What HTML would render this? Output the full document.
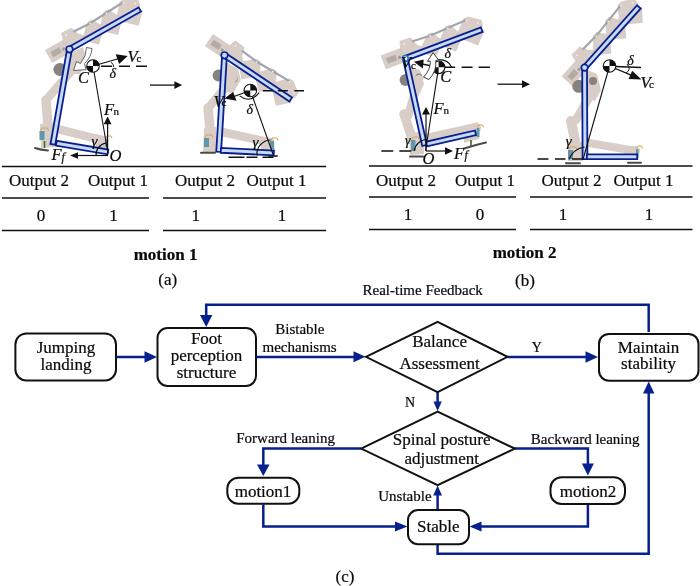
<!DOCTYPE html>
<html><head><meta charset="utf-8">
<style>
html,body{margin:0;padding:0;background:#fff;width:700px;height:586px;overflow:hidden}
svg{display:block;will-change:transform}
text{font-family:"Liberation Serif",serif;fill:#0a0a0a;stroke:#0a0a0a;stroke-width:0.22px}
</style></head><body>
<svg width="700" height="586" viewBox="0 0 700 586">
<defs>
<marker id="ah" viewBox="0 0 12 12" refX="12" refY="6" markerWidth="12" markerHeight="12" markerUnits="userSpaceOnUse" orient="auto"><path d="M0,0 L12,6 L0,12 z" fill="#0a2a96"/></marker>
</defs>

<g id="robots">
<defs><g id="spine">
<path d="M-21.5,-11 L-1,-11 L-1,3 L-21.5,3z" fill="#d8cec7" stroke="#c9bfb7" stroke-width="0.5"/>
<path d="M-18,-7 L-8,-7 L-8,-1 L-18,-1z" fill="#b3aca6"/>
<circle cx="-5" cy="-3" r="1.6" fill="#a29b95"/>
<g fill="#d8cec7" stroke="#c9bfb7" stroke-width="0.5">
<path d="M-3,-3 L1,-18 L12,-17.5 L15,-9 L21,-3z"/>
<path d="M17,-3 L29.5,-14.5 L34,-14.5 L41,-3z"/>
<path d="M37,-3 L48.5,-15.5 L53,-15.5 L60,-3z"/>
<path d="M56,-3 L68,-16.5 L73,-16.5 L84,-9 L83,-3z"/>
<path d="M20,2 L28,10 L36,2z"/>
<path d="M40,2 L49.5,11 L58,2z"/>
<path d="M60,2 L72,13 L83,2z"/>
</g>
<polyline points="12,-13.5 31,-12.5 50,-13.5 70,-14.5" fill="none" stroke="#a3a6ad" stroke-width="2.2"/>
<g fill="#f4f0ec"><circle cx="4" cy="-14" r="0.9"/><circle cx="31" cy="-12" r="0.9"/><circle cx="50" cy="-13" r="0.9"/><circle cx="70" cy="-14" r="0.9"/><circle cx="80" cy="-7.5" r="0.9"/></g>
</g>
<g id="com"><circle r="6.3" fill="#fff" stroke="#111" stroke-width="1.1"/><path d="M0,0 L0,-6.3 A6.3,6.3 0 0 1 6.3,0z M0,0 L0,6.3 A6.3,6.3 0 0 1 -6.3,0z" fill="#111"/></g></defs>
<g id="r1"><use href="#spine" transform="translate(69.5,49.3) rotate(-29.54) scale(0.997,1)"/>
<path d="M70,53 L83,47 L86,58 L80,74 L70,74z" fill="#d8cec7"/>
<path d="M40,124 L53,123 L55,147 L41,148z" fill="#d8cec7"/>
<path d="M96,134 L107,137 L108,150 L96,148z" fill="#d8cec7"/>
<circle cx="59.9" cy="69.5" r="6.5" fill="#85827f"/>
<line x1="74" y1="68" x2="47" y2="99" stroke="#d8cec7" stroke-width="8.5" stroke-linecap="round"/>
<line x1="46" y1="100" x2="49" y2="141" stroke="#d8cec7" stroke-width="9.5" stroke-linecap="round"/>
<line x1="60" y1="129.6" x2="104" y2="140.6" stroke="#d8cec7" stroke-width="8.5" stroke-linecap="round"/>
<rect x="39.5" y="131" width="5" height="9" fill="#5f97ad"/><path d="M40.5,130.5 L41.5,128 L47.5,128 L48.5,130.5" fill="none" stroke="#d9a050" stroke-width="1"/>
<rect x="105" y="139" width="3" height="8" fill="#5f97ad"/><path d="M106,138.5 L107,136 L111,136 L112,138.5" fill="none" stroke="#d9a050" stroke-width="1"/>
<path d="M35,148 Q41,150 48,150.5" stroke="#4e4b46" stroke-width="2" stroke-linecap="round" fill="none"/>
<line x1="44.5" y1="141" x2="44.5" y2="148" stroke="#3d6b2a" stroke-width="1.6"/>
<path d="M55.22,144.83 L71.71,50.60 L66.98,49.77 L50.49,144.00z" fill="#c8d9f1" stroke="#08208f" stroke-width="1.8" stroke-linejoin="miter"/>
<path d="M55.99,145.62 L107.51,154.32 L108.31,149.58 L56.79,140.88z" fill="#c8d9f1" stroke="#08208f" stroke-width="1.8" stroke-linejoin="miter"/>
<path d="M71.47,50.94 L141.00,11.53 L138.63,7.36 L69.10,46.77z" fill="#c8d9f1" stroke="#08208f" stroke-width="1.8" stroke-linejoin="miter"/>
<circle cx="69.5" cy="49.3" r="3.3" fill="#c8d9f1" stroke="#08208f" stroke-width="1.7"/></g>
<g id="r2"><use href="#spine" transform="translate(224.5,55.3) rotate(33.71) scale(0.982,1)"/>
<path d="M226,62 L238,69 L241,80 L233,93 L226,92z" fill="#d8cec7"/>
<circle cx="234" cy="79" r="3.5" fill="#85827f"/>
<path d="M204,128 L216,127 L216,152 L203,152z" fill="#d8cec7"/>
<path d="M261,137 L274,139 L275,152 L261,150z" fill="#d8cec7"/>
<circle cx="218.6" cy="75.6" r="6" fill="#85827f"/>
<line x1="233" y1="78" x2="210" y2="106" stroke="#d8cec7" stroke-width="8.5" stroke-linecap="round"/>
<line x1="208" y1="108" x2="212" y2="149" stroke="#d8cec7" stroke-width="9.5" stroke-linecap="round"/>
<line x1="222" y1="132" x2="268" y2="142" stroke="#d8cec7" stroke-width="8.5" stroke-linecap="round"/>
<rect x="204" y="138" width="5" height="9" fill="#5f97ad"/><path d="M205,137.5 L206,135 L212,135 L213,137.5" fill="none" stroke="#d9a050" stroke-width="1"/>
<rect x="270" y="141" width="4" height="8" fill="#5f97ad"/><path d="M271,140.5 L272,138 L277,138 L278,140.5" fill="none" stroke="#d9a050" stroke-width="1"/>
<path d="M201,152.8 L215,152.8" stroke="#4e4b46" stroke-width="2" stroke-linecap="round" fill="none"/>
<path d="M269,156 L277,156" stroke="#4e4b46" stroke-width="2" stroke-linecap="round" fill="none"/>
<path d="M221.05,151.85 L226.84,56.34 L222.05,56.05 L216.26,151.56z" fill="#c8d9f1" stroke="#08208f" stroke-width="1.8" stroke-linejoin="miter"/>
<path d="M220.78,152.74 L273.68,155.35 L273.92,150.56 L221.02,147.95z" fill="#c8d9f1" stroke="#08208f" stroke-width="1.8" stroke-linejoin="miter"/>
<path d="M223.92,57.80 L289.42,101.50 L292.08,97.50 L226.58,53.80z" fill="#c8d9f1" stroke="#08208f" stroke-width="1.8" stroke-linejoin="miter"/>
<circle cx="224.5" cy="55.3" r="3.3" fill="#c8d9f1" stroke="#08208f" stroke-width="1.7"/></g>
<g id="r3"><use href="#spine" transform="translate(405.3,58.4) rotate(-20.63) scale(1.007,1)"/>
<path d="M409,66 L420,70 L424,84 L418,97 L411,93z" fill="#d8cec7"/>
<circle cx="419" cy="77" r="3.5" fill="#85827f"/>
<path d="M409,134 L423,131 L424,154 L410,155z" fill="#d8cec7"/>
<path d="M463,126 L478,122 L479,139 L464,143z" fill="#d8cec7"/>
<circle cx="405.6" cy="80" r="6" fill="#85827f"/>
<line x1="419" y1="79" x2="408" y2="116" stroke="#d8cec7" stroke-width="8.5" stroke-linecap="round"/>
<line x1="404" y1="114" x2="413" y2="141" stroke="#d8cec7" stroke-width="9.5" stroke-linecap="round"/>
<line x1="426" y1="139" x2="476" y2="128" stroke="#d8cec7" stroke-width="10" stroke-linecap="round"/>
<rect x="411" y="140" width="4.5" height="11" fill="#5f97ad"/><path d="M412,139.5 L413,137 L418.5,137 L419.5,139.5" fill="none" stroke="#d9a050" stroke-width="1"/>
<rect x="476.5" y="128" width="3" height="9" fill="#5f97ad"/><path d="M477.5,127.5 L478.5,125 L482.5,125 L483.5,127.5" fill="none" stroke="#d9a050" stroke-width="1"/>
<path d="M410,156.5 L423,156.5" stroke="#4e4b46" stroke-width="2" stroke-linecap="round" fill="none"/>
<path d="M464,148.5 Q475,145 486,142.5" stroke="#4e4b46" stroke-width="2" stroke-linecap="round" fill="none"/>
<line x1="471" y1="140" x2="471" y2="146" stroke="#3d6b2a" stroke-width="1.6"/>
<path d="M426.95,145.00 L407.84,58.76 L403.15,59.80 L422.26,146.04z" fill="#c8d9f1" stroke="#08208f" stroke-width="1.8" stroke-linejoin="miter"/>
<path d="M427.02,146.44 L476.06,135.14 L474.98,130.46 L425.94,141.76z" fill="#c8d9f1" stroke="#08208f" stroke-width="1.8" stroke-linejoin="miter"/>
<path d="M406.99,60.33 L482.60,31.86 L480.91,27.37 L405.30,55.84z" fill="#c8d9f1" stroke="#08208f" stroke-width="1.8" stroke-linejoin="miter"/>
<circle cx="405.3" cy="58.4" r="2.9" fill="#e8f0fa" stroke="#1e6fd0" stroke-width="1.5"/></g>
<g id="r4"><use href="#spine" transform="translate(584.6,67.6) rotate(-48.20) scale(1.004,1)"/>
<path d="M588,70 L597,74 L601,90 L595,101 L588,99z" fill="#d8cec7"/>
<path d="M569,143 L583,142 L583,161 L568,161z" fill="#d8cec7"/>
<path d="M624,146 L637,146 L637,156 L624,156z" fill="#d8cec7"/>
<circle cx="578.8" cy="86.3" r="6.5" fill="#85827f"/>
<circle cx="593" cy="81" r="4" fill="#85827f"/>
<line x1="594" y1="89" x2="576" y2="120" stroke="#d8cec7" stroke-width="8.5" stroke-linecap="round"/>
<line x1="571" y1="121" x2="577" y2="150" stroke="#d8cec7" stroke-width="10" stroke-linecap="round"/>
<line x1="589" y1="143" x2="636" y2="151" stroke="#d8cec7" stroke-width="8" stroke-linecap="round"/>
<rect x="568" y="150" width="5" height="9" fill="#5f97ad"/><path d="M569,149.5 L570,147 L576,147 L577,149.5" fill="none" stroke="#d9a050" stroke-width="1"/>
<rect x="636" y="149" width="2.5" height="9" fill="#5f97ad"/><path d="M637,148.5 L638,146 L641.5,146 L642.5,148.5" fill="none" stroke="#d9a050" stroke-width="1"/>
<path d="M566,163.2 L580,163.2" stroke="#4e4b46" stroke-width="2" stroke-linecap="round" fill="none"/>
<path d="M628,162.8 L641,162.8" stroke="#4e4b46" stroke-width="2" stroke-linecap="round" fill="none"/>
<path d="M587.40,159.09 L587.00,68.49 L582.20,68.51 L582.60,159.11z" fill="#c8d9f1" stroke="#08208f" stroke-width="1.8" stroke-linejoin="miter"/>
<path d="M586.90,159.10 L637.20,159.10 L637.20,154.30 L586.90,154.30z" fill="#c8d9f1" stroke="#08208f" stroke-width="1.8" stroke-linejoin="miter"/>
<path d="M586.99,68.53 L640.69,8.47 L637.11,5.27 L583.41,65.33z" fill="#c8d9f1" stroke="#08208f" stroke-width="1.8" stroke-linejoin="miter"/>
<circle cx="584.6" cy="67.6" r="3.3" fill="#c8d9f1" stroke="#08208f" stroke-width="1.7"/></g>
<g id="annot">
<!-- r1 -->
<path d="M86.5,47.5 L92,48.5 Q91.5,57 84.5,63.5 L86,69.8 L73.5,70.5 L76.5,61.5 L80.5,63.5 Q86.5,56 86.5,47.5z" fill="#fff" stroke="#555" stroke-width="0.9"/>
<g stroke="#111" fill="none">
<line x1="93" y1="66" x2="108" y2="153.5" stroke-width="1.1"/>
<line x1="101" y1="66.3" x2="147" y2="66.3" stroke-width="1.6" stroke-dasharray="11,7 11,6 11"/>
<line x1="93" y1="66" x2="119" y2="58.5" stroke-width="1.3"/>
<path d="M111,62.3 Q114,64 113.5,67" stroke-width="1"/>
<line x1="107.6" y1="153.5" x2="107.6" y2="124" stroke-width="1.2"/>
<line x1="108" y1="155.5" x2="78" y2="155.5" stroke-width="1.2"/>
<path d="M96,155.5 A12,12 0 0 1 106,143" stroke-width="1.2"/>
</g>
<path d="M115.7,54.3 L127.7,56 L119.1,64z" fill="#111"/>
<path d="M103.7,124.3 L107.6,116.5 L111.5,124.3z" fill="#111"/>
<path d="M78,152.3 L70,155.5 L78,158.7z" fill="#111"/>
<use href="#com" x="93" y="66"/>
<!-- r2 -->
<g stroke="#111" fill="none">
<line x1="250.3" y1="90.5" x2="273.5" y2="155.5" stroke-width="1.1"/>
<line x1="250.8" y1="90.8" x2="304" y2="90.8" stroke-width="1.6" stroke-dasharray="0,12 10,5 10,6.5 10,6"/>
<line x1="250.3" y1="90.5" x2="234" y2="96.5" stroke-width="1.3"/>
<path d="M239.7,95.9 Q250,104 259.2,92.7" stroke-width="1.1"/>
<path d="M257,155.5 A14,14 0 0 1 270.5,140" stroke-width="1.2"/>
<line x1="228.5" y1="157.2" x2="274" y2="157.2" stroke-width="1.6" stroke-dasharray="16,2 11,5 11"/>
</g>
<path d="M233.2,91.9 L224.3,98.4 L236.5,100.8z" fill="#111"/>
<use href="#com" x="250.3" y="90.5"/>
<!-- r3 -->
<g stroke="#111" fill="none">
<line x1="438.6" y1="67.3" x2="425.5" y2="151" stroke-width="1.1"/>
<line x1="438.6" y1="67.3" x2="490" y2="67.3" stroke-width="1.6" stroke-dasharray="16.5,6.5 11,6 11.3"/>
<line x1="438.6" y1="67.3" x2="422" y2="64" stroke-width="1.3"/>
<path d="M438.5,59.6 Q448.5,59.5 451.5,67" stroke-width="1.1"/>
<line x1="426" y1="151" x2="426" y2="114" stroke-width="1.2"/>
<line x1="426" y1="151" x2="446" y2="151" stroke-width="1.2"/>
<path d="M414.3,151 A13,13 0 0 1 426.9,139.5" stroke-width="1.2"/>
<line x1="381.3" y1="151" x2="416" y2="151" stroke-width="1.6" stroke-dasharray="12,6 12"/>
</g>
<use href="#com" x="438.6" y="67.3"/>
<path d="M423.7,59.6 L413.9,61.7 L422.8,68.6z" fill="#111"/>
<path d="M422,114.5 L426,107 L430,114.5z" fill="#111"/>
<path d="M445,147.2 L453,151 L445,154.8z" fill="#111"/>
<path d="M427.4,61.4 L433.1,52.7 L438.5,60 L435.8,60.5 Q437,71 429,79.5 L423.5,77.2 Q430.5,70 430.3,61.1z" fill="#fff" stroke="#2a2a2a" stroke-width="0.9"/>
<!-- r4 -->
<g stroke="#111" fill="none">
<line x1="609.5" y1="66" x2="583" y2="159.5" stroke-width="1.1"/>
<line x1="609.5" y1="66.3" x2="641" y2="67.5" stroke-width="1.5"/>
<line x1="609.5" y1="66" x2="631" y2="75.2" stroke-width="1.3"/>
<path d="M627,64 Q632,69 626,73" stroke-width="1"/>
<path d="M569,159.5 Q573,149 584.5,147" stroke-width="1.2"/>
<line x1="537.5" y1="159" x2="583" y2="159" stroke-width="1.6" stroke-dasharray="11,6.5 10.5,6.5 11"/>
</g>
<use href="#com" x="609.5" y="66"/>
<path d="M632.2,70.7 L641.5,79.5 L628.6,79z" fill="#111"/>
<!-- arrows between -->
<g stroke="#111" stroke-width="1.3"><line x1="150" y1="85.1" x2="175" y2="85.1"/><line x1="497.6" y1="84.2" x2="523" y2="84.2"/></g>
<path d="M174.4,81.2 L182.1,85.1 L174.4,89z M522,80.3 L530.1,84.2 L522,88.1z" fill="#111"/>
<!-- labels -->
<g font-style="italic" font-size="16.5">
<text x="78" y="82.5">C</text><text x="127.5" y="61.5">V</text>
<text x="104" y="114.5">F</text><text x="51.5" y="160">F</text><text x="109.5" y="160.5">O</text>
<text x="213.5" y="106.5">V</text>
<text x="440.3" y="81.5">C</text><text x="401" y="67.5">V</text>
<text x="433.5" y="114">F</text><text x="454" y="158.5">F</text><text x="422.5" y="164">O</text>
<text x="640.5" y="87.5">V</text>
</g>
<g font-style="italic" font-size="14">
<text x="109.5" y="77.5">δ</text><text x="91.5" y="146.3" font-size="15">γ</text>
<text x="246.5" y="113.5">δ</text><text x="252.5" y="147" font-size="15">γ</text>
<text x="444.5" y="57.8">δ</text><text x="405" y="145">γ</text>
<text x="627.3" y="64.5">δ</text><text x="565.8" y="146.3" font-size="15">γ</text>
</g>
<g font-size="11">
<text x="136.5" y="61.5">c</text><text x="113.5" y="115">n</text>
<text x="221.5" y="106">c</text>
<text x="411" y="68.5">c</text><text x="443.5" y="114">n</text>
<text x="649" y="87.5">c</text>
</g>
<g font-style="italic" font-size="12"><text x="61.5" y="160.5">f</text><text x="464.5" y="158.5">f</text></g>
</g>

</g>
<g id="flow">
<!-- table lines -->
<g stroke="#111" stroke-width="1.6" fill="none">
<line x1="2" y1="166.5" x2="326" y2="166.5"/>
<line x1="2" y1="198" x2="149" y2="198"/>
<line x1="163" y1="198" x2="326" y2="198"/>
<line x1="2" y1="230.5" x2="149" y2="230.5"/>
<line x1="163" y1="230.5" x2="326" y2="230.5"/>
<line x1="369" y1="166" x2="692.5" y2="166"/>
<line x1="369" y1="197" x2="516" y2="197"/>
<line x1="530" y1="197" x2="692.5" y2="197"/>
<line x1="369" y1="229.5" x2="516" y2="229.5"/>
<line x1="530" y1="229.5" x2="692.5" y2="229.5"/>
</g>
<g font-size="17" text-anchor="middle">
<text x="39" y="186.3">Output 2</text>
<text x="118" y="186.3">Output 1</text>
<text x="205" y="186.3">Output 2</text>
<text x="276.5" y="186.3">Output 1</text>
<text x="406" y="185.6">Output 2</text>
<text x="485" y="185.6">Output 1</text>
<text x="571.5" y="185.6">Output 2</text>
<text x="643.5" y="185.6">Output 1</text>
<text x="41" y="220.6">0</text>
<text x="113.5" y="220.6">1</text>
<text x="195.7" y="220.6">1</text>
<text x="282" y="220.6">1</text>
<text x="408" y="220.2">1</text>
<text x="480" y="220.2">0</text>
<text x="563" y="220.2">1</text>
<text x="649" y="220.2">1</text>
<text x="165.5" y="259.8" font-weight="bold">motion 1</text>
<text x="524.5" y="258" font-weight="bold">motion 2</text>
<text x="167.7" y="285">(a)</text>
<text x="525" y="285.5">(b)</text>
<text x="345" y="582">(c)</text>
</g>
</g>

<g id="fc">
<g stroke="#06208e" stroke-width="2.5" fill="none" stroke-linejoin="miter">
<!-- feedback -->
<polyline points="648.7,332 648.7,304.8 206.2,304.8 206.2,316"/>
<line x1="116" y1="357" x2="145" y2="357"/>
<line x1="256" y1="357" x2="354" y2="357"/>
<line x1="507.5" y1="357" x2="586" y2="357"/>
<line x1="437.6" y1="392" x2="437.6" y2="402"/>
<polyline points="361,448.6 263.3,448.6 263.3,465"/>
<polyline points="514.5,448.6 587.9,448.6 587.9,464"/>
<line x1="437.6" y1="509" x2="437.6" y2="495"/>
<polyline points="263.3,504.5 263.3,526.6 395,526.6"/>
<polyline points="587.9,505 587.9,526.6 481,526.6"/>
<polyline points="437.6,544 437.6,553.8 648.7,553.8 648.7,393"/>
</g>
<g fill="#06208e">
<path d="M144.5,351.2 L157,357 L144.5,362.8z"/>
<path d="M200,315 L206.2,327 L212.4,315z"/>
<path d="M353.5,351.3 L365.5,356.8 L353.5,362.3z"/>
<path d="M585.5,351.3 L598,357 L585.5,362.7z"/>
<path d="M433.4,401.5 L437.6,411 L441.8,401.5z"/>
<path d="M257,464.5 L263.3,476 L269.6,464.5z"/>
<path d="M581.9,463.5 L587.9,475.5 L593.9,463.5z"/>
<path d="M433.2,495.5 L437.6,485.5 L442,495.5z"/>
<path d="M395,521.6 L407.5,526.6 L395,531.6z"/>
<path d="M481.5,521.6 L469.5,526.6 L481.5,531.6z"/>
<path d="M643,393.5 L648.7,381.5 L654.4,393.5z"/>
</g>
<g stroke="#111" stroke-width="2" fill="#fff">
<rect x="15.4" y="333.4" width="100.6" height="47" rx="11"/>
<rect x="157.5" y="328" width="98.5" height="58" rx="10"/>
<rect x="599" y="333.9" width="99.5" height="46.8" rx="10"/>
<rect x="227.3" y="477.7" width="72" height="26" rx="11"/>
<rect x="550.5" y="477.3" width="74.5" height="26.7" rx="11"/>
<rect x="408" y="510" width="61" height="34.2" rx="10"/>
<path d="M365.9,356.8 L437.6,321.8 L507.5,356.8 L437.6,392.2z" stroke-linejoin="miter"/>
<path d="M361.1,448.6 L437.6,411.7 L514.8,448.6 L437.6,485.2z"/>
</g>
<g font-size="17" text-anchor="middle">
<text x="66" y="353">Jumping</text>
<text x="66" y="369.6">landing</text>
<text x="206.5" y="344.4">Foot</text>
<text x="206.5" y="361.2">perception</text>
<text x="206.5" y="377.6">structure</text>
<text x="439.6" y="347.3">Balance</text>
<text x="439.6" y="368.9">Assessment</text>
<text x="648.5" y="352.9">Maintain</text>
<text x="648.5" y="368.6">stability</text>
<text x="441.6" y="444.5">Spinal posture</text>
<text x="441.8" y="463.9">adjustment</text>
<text x="263" y="496.6">motion1</text>
<text x="588" y="496.5">motion2</text>
<text x="438.3" y="532">Stable</text>
</g>
<g font-size="15" text-anchor="middle">
<text x="299.8" y="334.4">Bistable</text>
<text x="299.6" y="352">mechanisms</text>
<text x="422.7" y="295.4">Real-time Feedback</text>
<text x="285.6" y="443.3">Forward leaning</text>
<text x="585.2" y="443.6">Backward leaning</text>
<text x="404.9" y="501.4">Unstable</text>
</g>
<g font-size="14" text-anchor="middle">
<text x="410" y="407">N</text>
<text x="536.8" y="352.4">Y</text>
</g>
</g>
</svg>
</body></html>
